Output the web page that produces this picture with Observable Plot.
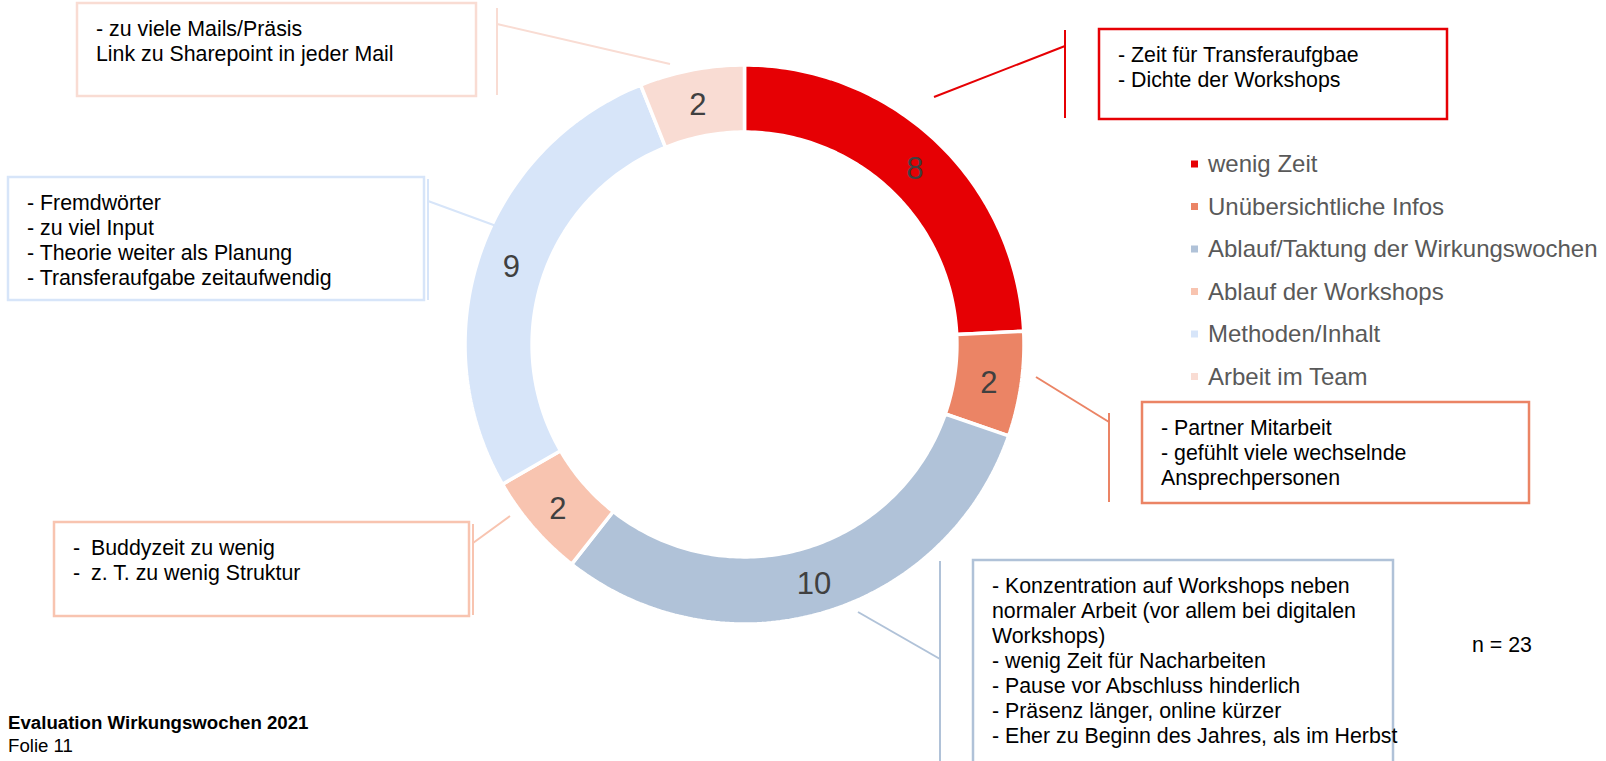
<!DOCTYPE html>
<html><head><meta charset="utf-8">
<script src="https://cdn.jsdelivr.net/npm/d3@7"></script>
<script src="https://cdn.jsdelivr.net/npm/@observablehq/plot@0.6"></script>
<style>
html,body{margin:0;padding:0;background:#fff;}
#wrap{position:relative;width:1606px;height:761px;overflow:hidden;font-family:"Liberation Sans",Arial,sans-serif;}
#chart,#overlay{position:absolute;left:0;top:0;}
#overlay{pointer-events:none;}
</style></head><body><div id="wrap"><div id="chart"></div></div>
<script>
// ---- data ----
const categories = ["wenig Zeit","Unübersichtliche Infos","Ablauf/Taktung der Wirkungswochen","Ablauf der Workshops","Methoden/Inhalt","Arbeit im Team"];
const counts = [8, 2, 10, 2, 9, 2];
const colors = ["#E60004","#EB8465","#B0C2D8","#F8C4B0","#D7E5F9","#F9DCD3"];
const comments = [
  ["- Zeit für Transferaufgbae","- Dichte der Workshops"],
  ["- Partner Mitarbeit","- gefühlt viele wechselnde","Ansprechpersonen"],
  ["- Konzentration auf Workshops neben","normaler Arbeit (vor allem bei digitalen","Workshops)","- wenig Zeit für Nacharbeiten","- Pause vor Abschluss hinderlich","- Präsenz länger, online kürzer","- Eher zu Beginn des Jahres, als im Herbst"],
  ["-\tBuddyzeit zu wenig","-\tz. T. zu wenig Struktur"],
  ["- Fremdwörter","- zu viel Input","- Theorie weiter als Planung","- Transferaufgabe zeitaufwendig"],
  ["- zu viele Mails/Präsis","Link zu Sharepoint in jeder Mail"]
];
const sampleNote = "n = 23";
const footerTitle = "Evaluation Wirkungswochen 2021";
const footerSub = "Folie 11";

// ---- layout (pixels) ----
const W = 1606, H = 761;
const cx = 744, cy = 344, R = 279.5, innerRatio = 0.760;
const calloutLayout = [
  {box:[1099,29,1447,119], stem:[1065,30,118], tip:[1065,46,934,97]},
  {box:[1142,402,1529,503], stem:[1109,413,502], tip:[1109,422,1036,377]},
  {box:[973,560,1393,800], stem:[940,561,800], tip:[940,659,858,612]},
  {box:[54,522,469,616], stem:[473,524,615], tip:[473,543,510,516]},
  {box:[8,177,424,300], stem:[428,179,300], tip:[428,201,499,227]},
  {box:[77,3,476,96], stem:[497,8,95], tip:[497,24,670,64]}
];
const textPad = 19, firstBase = 32.5, lineGap = 25.1, boxFont = 21.33;
const legendLayout = {x:1191, y0:164, dy:42.5, size:7, textX:1208};

// ---- donut geometry from data ----
const arcs = d3.pie().sort(null).value(d => d)(counts);
const ring = [];
arcs.forEach((a, i) => {
  const n = Math.max(8, Math.ceil((a.endAngle - a.startAngle) * 60));
  const pts = [];
  for (let k = 0; k <= n; k++) {
    const t = a.startAngle + (a.endAngle - a.startAngle) * k / n;
    pts.push({x: Math.sin(t), y: Math.cos(t)});
  }
  for (let k = n; k >= 0; k--) {
    const t = a.startAngle + (a.endAngle - a.startAngle) * k / n;
    pts.push({x: innerRatio * Math.sin(t), y: innerRatio * Math.cos(t)});
  }
  pts.push(pts[0]);
  pts.forEach(p => ring.push({...p, cat: categories[i]}));
});
const midR = (1 + innerRatio) / 2 + 0.003;
const labels = arcs.map((a, i) => {
  const m = (a.startAngle + a.endAngle) / 2;
  return {x: midR * Math.sin(m), y: midR * Math.cos(m), text: String(counts[i])};
});

const plot = Plot.plot({
  width: W, height: H, margin: 0,
  x: {domain: [-1, 1], range: [cx - R, cx + R], axis: null},
  y: {domain: [-1, 1], range: [cy + R, cy - R], axis: null},
  color: {domain: categories, range: colors},
  style: {background: "transparent", fontFamily: "Liberation Sans, Arial, sans-serif"},
  marks: [
    Plot.line(ring, {x: "x", y: "y", z: "cat", fill: "cat", stroke: "white", strokeWidth: 3.5, strokeLinejoin: "miter", curve: "linear"}),
    Plot.text(labels, {x: "x", y: "y", text: "text", dy: 3, fontSize: 31, fill: "#404040", fontFamily: "Liberation Sans, Arial, sans-serif"})
  ]
});
document.getElementById("chart").appendChild(plot);

// ---- annotation overlay ----
const svg = d3.select("#wrap").append("svg").attr("id", "overlay")
  .attr("width", W).attr("height", H)
  .style("font-family", "Liberation Sans, Arial, sans-serif");

calloutLayout.forEach((c, i) => {
  const col = colors[i];
  const [x0, y0, x1, y1] = c.box;
  svg.append("rect").attr("x", x0).attr("y", y0).attr("width", x1 - x0).attr("height", y1 - y0)
    .attr("fill", "white").attr("stroke", col).attr("stroke-width", 2.5);
  svg.append("line").attr("x1", c.stem[0]).attr("x2", c.stem[0]).attr("y1", c.stem[1]).attr("y2", c.stem[2])
    .attr("stroke", col).attr("stroke-width", 2);
  svg.append("line").attr("x1", c.tip[0]).attr("y1", c.tip[1]).attr("x2", c.tip[2]).attr("y2", c.tip[3])
    .attr("stroke", col).attr("stroke-width", 2);
  comments[i].forEach((line, j) => {
    const yb = y0 + firstBase + j * lineGap;
    const parts = line.split("\t");
    if (parts.length > 1) {
      svg.append("text").attr("x", x0 + textPad).attr("y", yb).attr("font-size", boxFont).attr("fill", "#000").text(parts[0]);
      svg.append("text").attr("x", x0 + textPad + 18).attr("y", yb).attr("font-size", boxFont).attr("fill", "#000").text(parts[1]);
    } else {
      svg.append("text").attr("x", x0 + textPad).attr("y", yb).attr("font-size", boxFont).attr("fill", "#000").text(line);
    }
  });
});

// legend
categories.forEach((cat, i) => {
  const yc = legendLayout.y0 + i * legendLayout.dy;
  svg.append("rect").attr("x", legendLayout.x).attr("y", yc - legendLayout.size / 2)
    .attr("width", legendLayout.size).attr("height", legendLayout.size).attr("fill", colors[i]);
  svg.append("text").attr("x", legendLayout.textX).attr("y", yc + 8)
    .attr("font-size", 24).attr("fill", "#595959").text(cat);
});

// n and footer
svg.append("text").attr("x", 1472).attr("y", 652).attr("font-size", boxFont).attr("fill", "#000").text(sampleNote);
svg.append("text").attr("x", 8).attr("y", 729).attr("font-size", 18.67).attr("font-weight", "bold").attr("fill", "#000").text(footerTitle);
svg.append("text").attr("x", 8).attr("y", 752).attr("font-size", 18.67).attr("fill", "#000").text(footerSub);
</script>
</body></html>
